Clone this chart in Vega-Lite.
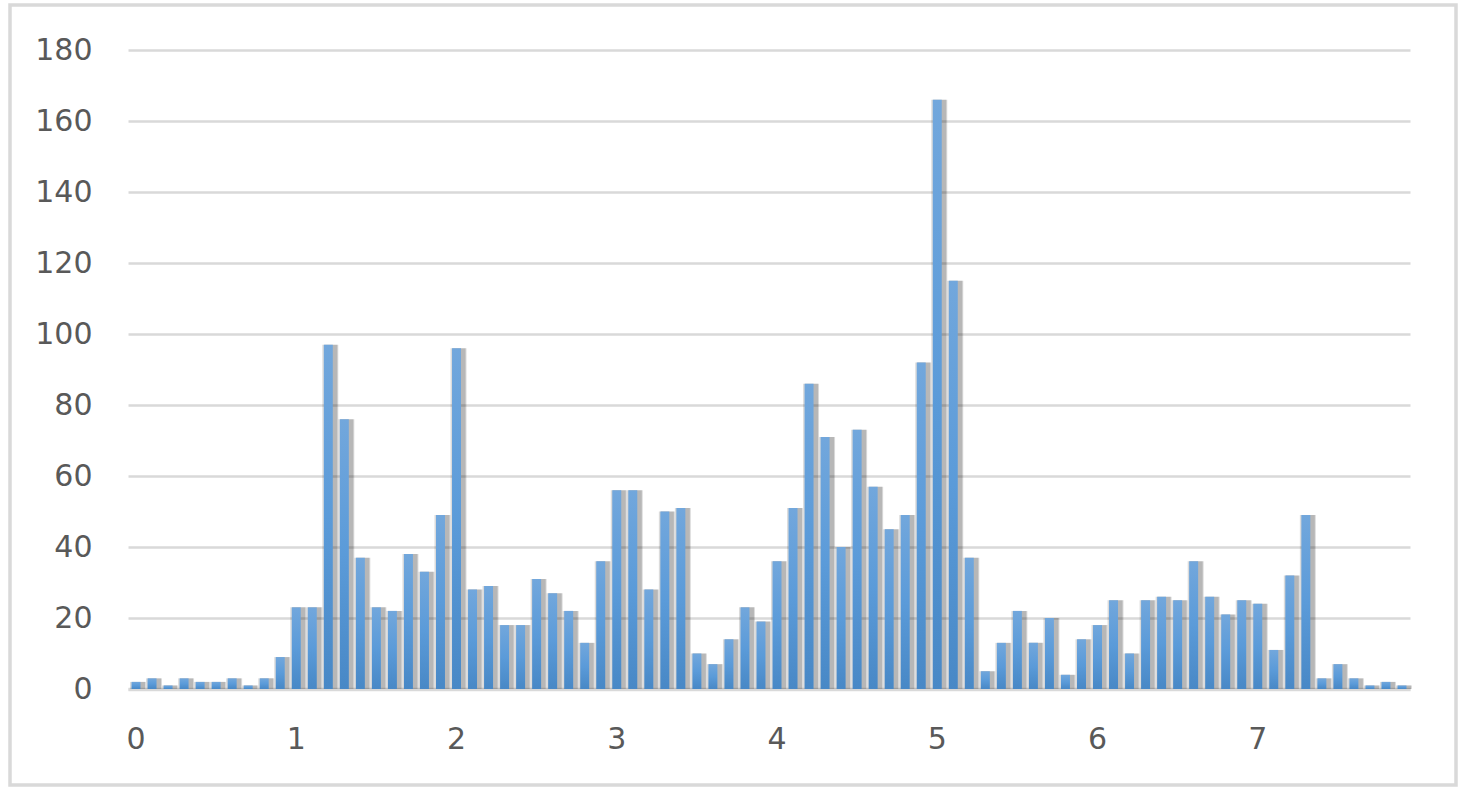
{
  "$schema": "https://vega.github.io/schema/vega-lite/v6.json",
  "width": 1446,
  "height": 780,
  "autosize": {"type": "none"},
  "padding": {"left": 10, "top": 5, "right": 13, "bottom": 17},
  "background": "white",
  "config": {
    "view": {"stroke": "#d9d9d9", "strokeWidth": 3.5},
    "axis": {"labelFont": "DejaVu Sans", "labelColor": "#595959", "labelFontSize": 30}
  },
  "data": {"values": [
    {"x": 0, "v": 2}, {"x": 0.1, "v": 3}, {"x": 0.2, "v": 1}, {"x": 0.3, "v": 3}, {"x": 0.4, "v": 2},
    {"x": 0.5, "v": 2}, {"x": 0.6, "v": 3}, {"x": 0.7, "v": 1}, {"x": 0.8, "v": 3}, {"x": 0.9, "v": 9},
    {"x": 1, "v": 23}, {"x": 1.1, "v": 23}, {"x": 1.2, "v": 97}, {"x": 1.3, "v": 76}, {"x": 1.4, "v": 37},
    {"x": 1.5, "v": 23}, {"x": 1.6, "v": 22}, {"x": 1.7, "v": 38}, {"x": 1.8, "v": 33}, {"x": 1.9, "v": 49},
    {"x": 2, "v": 96}, {"x": 2.1, "v": 28}, {"x": 2.2, "v": 29}, {"x": 2.3, "v": 18}, {"x": 2.4, "v": 18},
    {"x": 2.5, "v": 31}, {"x": 2.6, "v": 27}, {"x": 2.7, "v": 22}, {"x": 2.8, "v": 13}, {"x": 2.9, "v": 36},
    {"x": 3, "v": 56}, {"x": 3.1, "v": 56}, {"x": 3.2, "v": 28}, {"x": 3.3, "v": 50}, {"x": 3.4, "v": 51},
    {"x": 3.5, "v": 10}, {"x": 3.6, "v": 7}, {"x": 3.7, "v": 14}, {"x": 3.8, "v": 23}, {"x": 3.9, "v": 19},
    {"x": 4, "v": 36}, {"x": 4.1, "v": 51}, {"x": 4.2, "v": 86}, {"x": 4.3, "v": 71}, {"x": 4.4, "v": 40},
    {"x": 4.5, "v": 73}, {"x": 4.6, "v": 57}, {"x": 4.7, "v": 45}, {"x": 4.8, "v": 49}, {"x": 4.9, "v": 92},
    {"x": 5, "v": 166}, {"x": 5.1, "v": 115}, {"x": 5.2, "v": 37}, {"x": 5.3, "v": 5}, {"x": 5.4, "v": 13},
    {"x": 5.5, "v": 22}, {"x": 5.6, "v": 13}, {"x": 5.7, "v": 20}, {"x": 5.8, "v": 4}, {"x": 5.9, "v": 14},
    {"x": 6, "v": 18}, {"x": 6.1, "v": 25}, {"x": 6.2, "v": 10}, {"x": 6.3, "v": 25}, {"x": 6.4, "v": 26},
    {"x": 6.5, "v": 25}, {"x": 6.6, "v": 36}, {"x": 6.7, "v": 26}, {"x": 6.8, "v": 21}, {"x": 6.9, "v": 25},
    {"x": 7, "v": 24}, {"x": 7.1, "v": 11}, {"x": 7.2, "v": 32}, {"x": 7.3, "v": 49}, {"x": 7.4, "v": 3},
    {"x": 7.5, "v": 7}, {"x": 7.6, "v": 3}, {"x": 7.7, "v": 1}, {"x": 7.8, "v": 2}, {"x": 7.9, "v": 1}
  ]},
  "encoding": {
    "x": {
      "field": "x", "type": "ordinal",
      "scale": {"type": "band", "range": [118, 1400], "paddingInner": 0.44, "paddingOuter": 0.22},
      "axis": {
        "title": null, "values": [0, 1, 2, 3, 4, 5, 6, 7], "labelAngle": 0,
        "orient": "bottom", "offset": -96, "ticks": false, "tickSize": 0, "labelPadding": 35,
        "domain": true, "domainColor": "#d9d9d9", "domainWidth": 3.5, "grid": false
      }
    },
    "y": {
      "field": "v", "type": "quantitative",
      "scale": {"domain": [0, 180], "range": [684, 45], "nice": false},
      "axis": {
        "title": null, "values": [0, 20, 40, 60, 80, 100, 120, 140, 160, 180],
        "orient": "left", "offset": -118, "ticks": false, "tickSize": 0, "labelPadding": 36,
        "domain": false, "grid": true, "gridColor": "#d9d9d9", "gridWidth": 2.5
      }
    }
  },
  "layer": [
    {
      "mark": {"type": "bar", "color": "#000000", "opacity": 0.14, "xOffset": 2, "width": {"band": 1.78}}
    },
    {
      "mark": {"type": "bar", "color": "#000000", "opacity": 0.16, "xOffset": 2.5, "width": {"band": 1.45}}
    },
    {
      "mark": {
        "type": "bar",
        "color": {
          "gradient": "linear", "x1": 0, "y1": 0, "x2": 0, "y2": 1,
          "stops": [
            {"offset": 0, "color": "#72a7dc"},
            {"offset": 0.5, "color": "#5b9bd9"},
            {"offset": 1, "color": "#4888c6"}
          ]
        }
      }
    }
  ]
}
